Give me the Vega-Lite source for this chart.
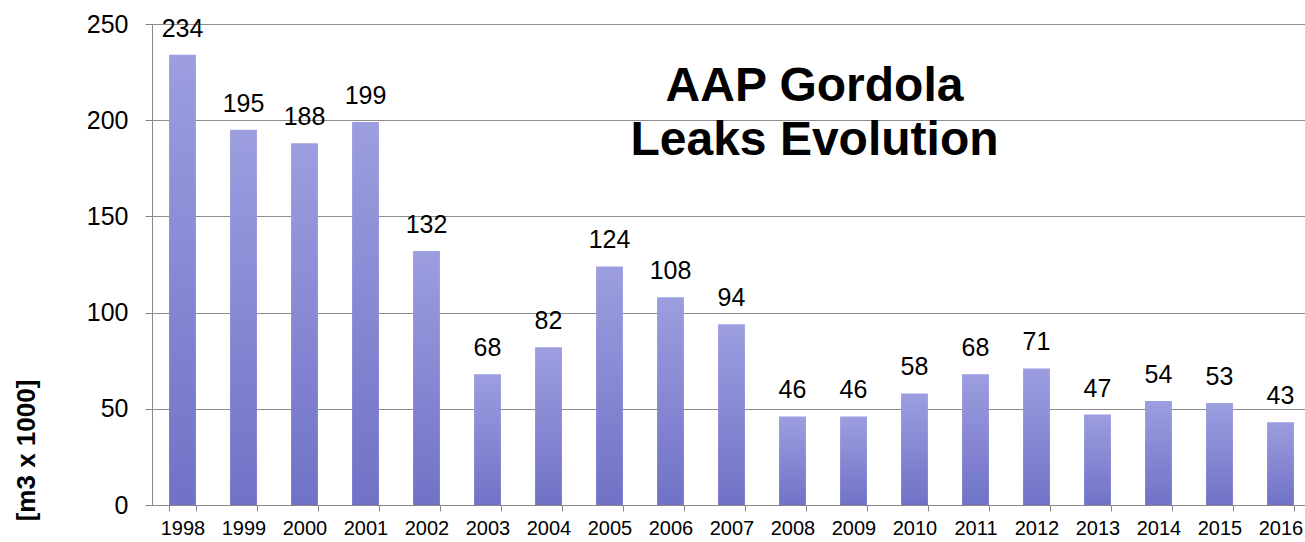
{
  "$schema": "https://vega.github.io/schema/vega-lite/v6.json",
  "autosize": {"type": "none"},
  "width": 1159,
  "height": 481,
  "padding": {"left": 152, "top": 24, "right": 0, "bottom": 37},
  "background": "white",
  "config": {"font": "Liberation Sans", "view": {"stroke": null}},
  "title": {
    "text": ["AAP Gordola", "Leaks Evolution"],
    "fontSize": 48,
    "fontWeight": "bold",
    "color": "black",
    "font": "Liberation Sans",
    "anchor": "middle",
    "orient": "top",
    "lineHeight": 54,
    "baseline": "top",
    "dx": 83,
    "dy": 157
  },
  "data": {
    "values": [
      {"year": "1998", "value": 234},
      {"year": "1999", "value": 195},
      {"year": "2000", "value": 188},
      {"year": "2001", "value": 199},
      {"year": "2002", "value": 132},
      {"year": "2003", "value": 68},
      {"year": "2004", "value": 82},
      {"year": "2005", "value": 124},
      {"year": "2006", "value": 108},
      {"year": "2007", "value": 94},
      {"year": "2008", "value": 46},
      {"year": "2009", "value": 46},
      {"year": "2010", "value": 58},
      {"year": "2011", "value": 68},
      {"year": "2012", "value": 71},
      {"year": "2013", "value": 47},
      {"year": "2014", "value": 54},
      {"year": "2015", "value": 53},
      {"year": "2016", "value": 43}
    ]
  },
  "encoding": {
    "x": {
      "field": "year",
      "type": "ordinal",
      "scale": {"paddingInner": 0.56, "paddingOuter": 0.28},
      "axis": {
        "title": null,
        "labelAngle": 0,
        "labelFontSize": 20,
        "labelColor": "black",
        "labelPadding": 7,
        "tickBand": "extent",
        "tickSize": 6,
        "tickColor": "#888888",
        "domainColor": "#888888",
        "grid": false
      }
    },
    "y": {
      "field": "value",
      "type": "quantitative",
      "scale": {"domain": [0, 250], "nice": false},
      "axis": {
        "values": [0, 50, 100, 150, 200, 250],
        "title": "[m3 x 1000]",
        "titleFontSize": 26,
        "titleFontWeight": "bold",
        "titleColor": "black",
        "titleAngle": -90,
        "titleAlign": "center",
        "titleBaseline": "middle",
        "titleX": -126,
        "titleY": 426,
        "labelFontSize": 25,
        "labelColor": "black",
        "labelPadding": 17,
        "tickSize": 7,
        "tickColor": "#888888",
        "domainColor": "#888888",
        "grid": true,
        "gridColor": "#8c8c8c",
        "gridWidth": 1
      }
    }
  },
  "layer": [
    {
      "mark": {
        "type": "bar",
        "color": {
          "gradient": "linear",
          "x1": 0, "y1": 0, "x2": 0, "y2": 1,
          "stops": [
            {"offset": 0, "color": "#9c9ee0"},
            {"offset": 1, "color": "#7072c6"}
          ]
        }
      }
    },
    {
      "mark": {"type": "text", "fontSize": 25, "baseline": "alphabetic", "dy": -18, "color": "black"},
      "encoding": {"text": {"field": "value", "type": "quantitative"}}
    }
  ]
}
